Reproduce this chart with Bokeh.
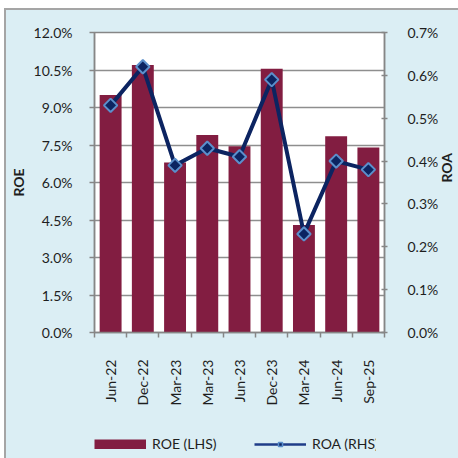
import math
from bokeh.plotting import figure
from bokeh.layouts import column
from bokeh.models import (Range1d, LinearAxis, FixedTicker, PrintfTickFormatter,
                          ColumnDataSource, Legend, LegendItem)
from bokeh.embed import file_html
from bokeh.resources import INLINE

categories = ["Jun-22", "Dec-22", "Mar-23", "Mar-23", "Jun-23", "Dec-23", "Mar-24", "Jun-24", "Sep-25"]
roe = [9.5, 10.7, 6.8, 7.9, 7.45, 10.55, 4.3, 7.85, 7.4]
roa = [0.53, 0.62, 0.39, 0.43, 0.41, 0.59, 0.23, 0.40, 0.38]
roe_ticks = [0.0, 1.5, 3.0, 4.5, 6.0, 7.5, 9.0, 10.5, 12.0]
roa_ticks = [0.0, 0.1, 0.2, 0.3, 0.4, 0.5, 0.6, 0.7]

BAR = "#821D41"
NAVY = "#0C2461"
MARK_LINE = "#5B8FCB"
BG = "#DBEEF4"
GRID = "#8E8E8E"
AX = "#868686"
TXT = "#1E1E1E"
FONT = "Lato"

idx = list(range(len(categories)))
src = ColumnDataSource(dict(x=idx, roe=roe, roa=roa))

p = figure(frame_width=290, frame_height=300,
           x_range=Range1d(-0.5, len(categories) - 0.5),
           y_range=Range1d(roe_ticks[0], roe_ticks[-1]),
           output_backend="svg", toolbar_location=None,
           min_border_left=93, min_border_right=75,
           min_border_top=32, min_border_bottom=80,
           background_fill_color="white", border_fill_alpha=0)
p.outline_line_color = AX
p.outline_line_width = 1.5

p.extra_y_ranges = {"roa": Range1d(roa_ticks[0], roa_ticks[-1])}

# left axis
ly = p.yaxis[0]
ly.ticker = FixedTicker(ticks=roe_ticks)
ly.formatter = PrintfTickFormatter(format="%.1f%%")
ly.axis_label = "ROE"
ly.axis_label_text_font = FONT
ly.axis_label_text_font_style = "bold"
ly.axis_label_text_font_size = "14px"
ly.axis_label_text_color = TXT
ly.axis_label_standoff = 4
ly.major_label_text_font = FONT
ly.major_label_text_font_size = "14px"
ly.major_label_text_color = TXT
ly.major_label_standoff = 17
ly.major_tick_out = 5
ly.major_tick_in = 0
ly.minor_tick_line_color = None
ly.axis_line_color = AX
ly.axis_line_width = 1.5
ly.major_tick_line_color = AX
ly.major_tick_line_width = 1.5

# right axis
ry = LinearAxis(y_range_name="roa", ticker=FixedTicker(ticks=roa_ticks),
                formatter=PrintfTickFormatter(format="%.1f%%"))
ry.axis_label = "ROA"
ry.axis_label_orientation = math.pi / 2
ry.axis_label_text_font = FONT
ry.axis_label_text_font_style = "bold"
ry.axis_label_text_font_size = "14px"
ry.axis_label_text_color = TXT
ry.axis_label_standoff = 5
ry.major_label_text_font = FONT
ry.major_label_text_font_size = "14px"
ry.major_label_text_color = TXT
ry.major_label_standoff = 20
ry.major_tick_out = 3
ry.major_tick_in = 3
ry.minor_tick_line_color = None
ry.axis_line_color = AX
ry.axis_line_width = 1.5
ry.major_tick_line_color = AX
ry.major_tick_line_width = 1.5
p.add_layout(ry, "right")

# bottom axis
bx = p.xaxis[0]
bx.ticker = FixedTicker(ticks=idx, minor_ticks=[i - 0.5 for i in range(len(categories) + 1)])
bx.major_label_overrides = {i: c for i, c in zip(idx, categories)}
bx.major_label_orientation = math.pi / 2
bx.major_label_text_font = FONT
bx.major_label_text_font_size = "14px"
bx.major_label_text_color = TXT
bx.major_label_standoff = 22
bx.major_tick_line_color = None
bx.major_tick_out = 0
bx.major_tick_in = 0
bx.minor_tick_out = 5
bx.minor_tick_in = 0
bx.minor_tick_line_color = AX
bx.minor_tick_line_width = 1.5
bx.axis_line_color = AX
bx.axis_line_width = 1.5

p.xgrid.visible = False
p.ygrid.ticker = FixedTicker(ticks=roe_ticks)
p.ygrid.grid_line_color = GRID
p.ygrid.grid_line_width = 1.5

p.vbar(x="x", top="roe", width=0.68, source=src, fill_color=BAR, line_color=None)
p.line(x="x", y="roa", source=src, y_range_name="roa", line_color=NAVY, line_width=4)
p.scatter(x="x", y="roa", source=src, y_range_name="roa", marker="square", angle=math.pi / 4,
          size=9.5, fill_color=NAVY, line_color=MARK_LINE, line_width=2)

# legend strip: a small figure below holding only the legend
lf = figure(width=458, height=46, output_backend="svg", toolbar_location=None,
            min_border_left=94, min_border_top=23, min_border_right=0, min_border_bottom=0,
            x_range=Range1d(0, 1), y_range=Range1d(0, 1),
            x_axis_type=None, y_axis_type=None,
            background_fill_alpha=0, border_fill_alpha=0, outline_line_color=None)
lf.xgrid.visible = False
lf.ygrid.visible = False
nan = float("nan")
proxy = ColumnDataSource(dict(x=[nan], y=[nan]))  # legend swatches only, nothing plotted
leg_bar = lf.line(x="x", y="y", source=proxy, line_color=BAR, line_width=10)
leg_line = lf.line(x="x", y="y", source=proxy, line_color="#1F3C88", line_width=2.5)
leg_mark = lf.scatter(x="x", y="y", source=proxy, marker="square", angle=math.pi / 4, size=6,
                      fill_color=NAVY, line_color=MARK_LINE, line_width=1.5)

legend = Legend(items=[LegendItem(label="ROE (LHS)", renderers=[leg_bar]),
                       LegendItem(label="ROA (RHS)", renderers=[leg_line, leg_mark])],
                orientation="horizontal", location="top_left",
                glyph_width=52, glyph_height=10, label_standoff=6, label_width=102,
                spacing=0, padding=0, margin=0, border_line_color=None,
                background_fill_alpha=0, label_text_font=FONT, label_text_font_size="14px",
                label_text_color=TXT, label_height=16)
lf.add_layout(legend, "center")

layout = column(p, lf, spacing=0)
layout.styles = {
    "background": ("linear-gradient(#A5A5A5,#A5A5A5) 4px 8px / 2px 100% no-repeat, "
                   "linear-gradient(#A5A5A5,#A5A5A5) 4px 8px / 100% 2px no-repeat, "
                   f"linear-gradient({BG},{BG}) 6px 10px / 100% 100% no-repeat, #FFFFFF"),
}

open("out.html", "w").write(file_html(layout, INLINE))
